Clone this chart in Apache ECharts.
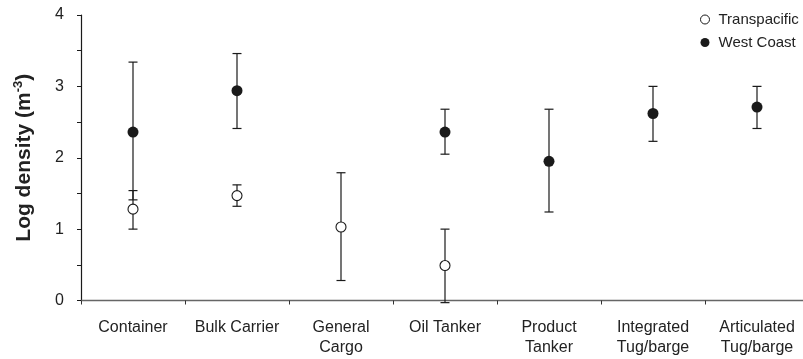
<!DOCTYPE html>
<html>
<head>
<meta charset="utf-8">
<script src="https://cdn.jsdelivr.net/npm/echarts@6/dist/echarts.min.js"></script>
<style>html,body{margin:0;padding:0;background:#fff;}#c{width:803px;height:359px;}</style>
</head>
<body>
<div id="c"></div>
<script>
var categories = ['Container', 'Bulk Carrier', 'General\nCargo', 'Oil Tanker', 'Product\nTanker', 'Integrated\nTug/barge', 'Articulated\nTug/barge'];
var tpMean = [1.28, 1.47, 1.03, 0.49, null, null, null];
var tpLow  = [1.00, 1.32, 0.28, -0.03, null, null, null];
var tpHigh = [1.54, 1.62, 1.79, 1.00, null, null, null];
var wcMean = [2.36, 2.94, null, 2.36, 1.95, 2.62, 2.71];
var wcLow  = [1.41, 2.41, null, 2.05, 1.24, 2.23, 2.41];
var wcHigh = [3.34, 3.46, null, 2.68, 2.68, 3.00, 3.00];
var yTicks = [0, 1, 2, 3, 4];

function errData(low, high) {
  var out = [];
  for (var i = 0; i < low.length; i++) {
    if (low[i] != null && high[i] != null) out.push([i, low[i], high[i]]);
  }
  return out;
}
function meanData(m) {
  var out = [];
  for (var i = 0; i < m.length; i++) if (m[i] != null) out.push([i, m[i]]);
  return out;
}
function renderErr(params, api) {
  var x = api.value(0);
  var lo = api.coord([x, api.value(1)]);
  var hi = api.coord([x, api.value(2)]);
  var hw = 4.5;
  var st = {stroke: '#1a1a1a', lineWidth: 1.2};
  return {
    type: 'group',
    children: [
      {type: 'line', shape: {x1: lo[0], y1: lo[1], x2: hi[0], y2: hi[1]}, style: st},
      {type: 'line', shape: {x1: lo[0] - hw, y1: lo[1], x2: lo[0] + hw, y2: lo[1]}, style: st},
      {type: 'line', shape: {x1: hi[0] - hw, y1: hi[1], x2: hi[0] + hw, y2: hi[1]}, style: st}
    ]
  };
}

var chart = echarts.init(document.getElementById('c'), null, {renderer: 'canvas'});
var font = 'Liberation Sans, Arial, Helvetica, sans-serif';
chart.setOption({
  animation: false,
  backgroundColor: '#fff',
  textStyle: {fontFamily: font},
  grid: {left: 81, width: 728, top: 15, bottom: 58.5, containLabel: false, outerBoundsMode: 'none'},
  legend: {
    orient: 'vertical',
    left: 700,
    top: 12,
    padding: 0,
    itemWidth: 9,
    itemHeight: 9,
    itemGap: 8,
    textStyle: {fontFamily: font, fontSize: 15, color: '#222', padding: [0, 0, 0, 4]},
    data: [
      {name: 'Transpacific', icon: 'circle', itemStyle: {color: '#fff', borderColor: '#1a1a1a', borderWidth: 1}},
      {name: 'West Coast', icon: 'circle', itemStyle: {color: '#1a1a1a'}}
    ]
  },
  xAxis: {
    type: 'category',
    data: categories,
    boundaryGap: true,
    axisLine: {lineStyle: {color: '#666', width: 1.3}},
    axisTick: {show: true, length: 4, alignWithLabel: false, lineStyle: {color: '#333'}},
    axisLabel: {fontFamily: font, fontSize: 16, color: '#222', margin: 17, lineHeight: 20, interval: 0},
    splitLine: {show: false}
  },
  yAxis: {
    type: 'value',
    min: 0,
    max: 4,
    interval: 1,
    name: '{a|Log density (m}{s|-3}{a|)}',
    nameLocation: 'middle',
    nameGap: 46,
    nameTextStyle: {
      rich: {
        a: {fontFamily: font, fontSize: 21, fontWeight: 'bold', color: '#222', lineHeight: 26, verticalAlign: 'bottom'},
        s: {fontFamily: font, fontSize: 13, fontWeight: 'bold', color: '#222', lineHeight: 26, verticalAlign: 'bottom', padding: [0, 0, 10, 0]}
      }
    },
    axisLine: {show: true, lineStyle: {color: '#1a1a1a', width: 1.2}},
    axisTick: {show: true, length: 4, lineStyle: {color: '#1a1a1a'}},
    minorTick: {show: true, splitNumber: 2, length: 4, lineStyle: {color: '#1a1a1a'}},
    axisLabel: {fontFamily: font, fontSize: 16, color: '#222', margin: 17,
      formatter: function (v) { return yTicks.indexOf(v) >= 0 ? String(v) : ''; }},
    splitLine: {show: false}
  },
  series: [
    {type: 'custom', name: 'tpErr', renderItem: renderErr, data: errData(tpLow, tpHigh), encode: {x: 0, y: [1, 2]}, z: 2, silent: true},
    {type: 'custom', name: 'wcErr', renderItem: renderErr, data: errData(wcLow, wcHigh), encode: {x: 0, y: [1, 2]}, z: 2, silent: true},
    {type: 'scatter', name: 'Transpacific', data: meanData(tpMean), symbol: 'circle', symbolSize: 10,
      itemStyle: {color: '#fff', borderColor: '#1a1a1a', borderWidth: 1.1, opacity: 1}, z: 5},
    {type: 'scatter', name: 'West Coast', data: meanData(wcMean), symbol: 'circle', symbolSize: 11,
      itemStyle: {color: '#1a1a1a', opacity: 1}, z: 5}
  ]
});
</script>
</body>
</html>
